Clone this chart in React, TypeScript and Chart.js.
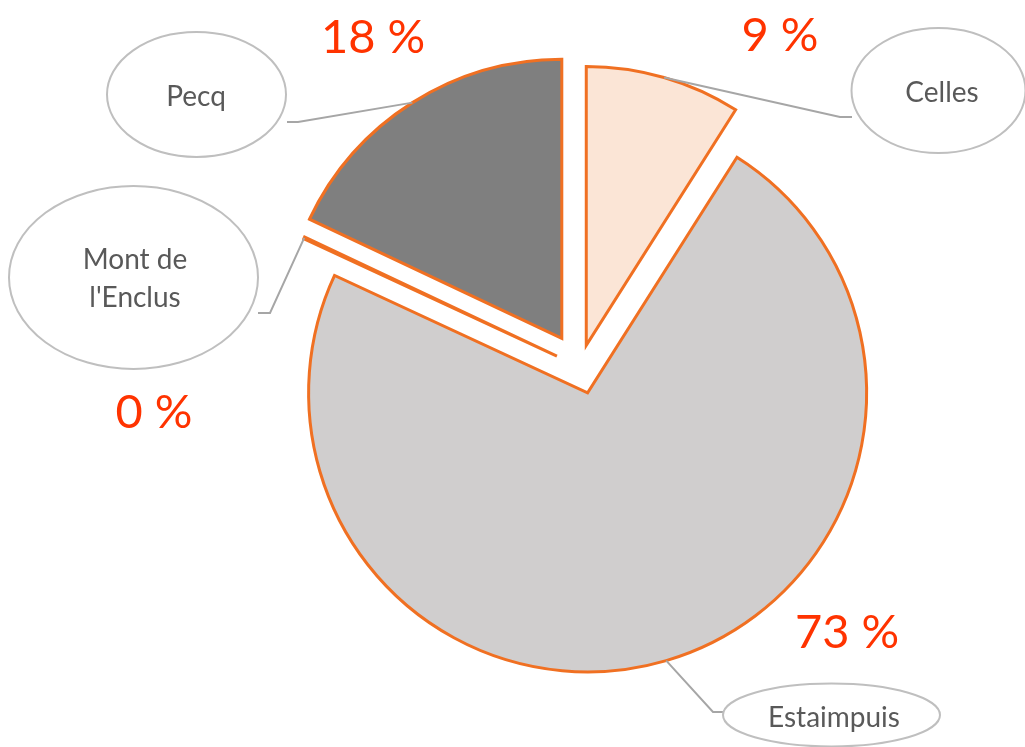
import React, { useEffect, useRef } from "react";
import { Chart, registerables } from "chart.js";

Chart.register(...registerables);

// ---- data ----
const categories: string[][] = [["Celles"], ["Estaimpuis"], ["Mont de", "l'Enclus"], ["Pecq"]];
const shares: number[] = [9, 73, 0.1, 18];
const fillColors: string[] = ["#FBE5D6", "#D0CECE", "#FFFFFF", "#7F7F7F"];
// explosion distance of each slice (px), a style setting
const explodeDistances: number[] = [22.5, 27, 25.5, 34];

// ---- layout of callouts (positions only) ----
type Callout = {
  ex: number; ey: number; rx: number; ry: number;
  tx: number; tBase: number[];
  elbow: [number, number]; end: [number, number];
  px: number; pBase: number;
};
const callouts: Callout[] = [
  { ex: 938.5, ey: 90.5, rx: 87, ry: 62.5, tx: 942, tBase: [102], elbow: [840, 117], end: [852, 117], px: 780, pBase: 51 },
  { ex: 831.5, ey: 715, rx: 108.5, ry: 31.5, tx: 834, tBase: [727], elbow: [713, 712], end: [723, 712], px: 847, pBase: 648 },
  { ex: 133.5, ey: 277.5, rx: 124.5, ry: 91.5, tx: 135, tBase: [269, 307], elbow: [270, 313], end: [258, 313], px: 154, pBase: 428 },
  { ex: 196.5, ey: 94.5, rx: 89.5, ry: 62.5, tx: 196, tBase: [106], elbow: [298, 122], end: [287, 122], px: 373, pBase: 53 },
];

const explodePlugin = {
  id: "explode",
  beforeDatasetsDraw(chart: any) {
    const meta = chart.getDatasetMeta(0);
    meta.data.forEach((arc: any, i: number) => {
      if (arc.$exploded) return;
      arc.$exploded = true;
      const orig = arc.draw.bind(arc);
      arc.draw = (ctx: CanvasRenderingContext2D, area: any) => {
        const mid = (arc.startAngle + arc.endAngle) / 2;
        const d = explodeDistances[i];
        ctx.save();
        ctx.translate(Math.cos(mid) * d, Math.sin(mid) * d);
        orig(ctx, area);
        ctx.restore();
      };
    });
  },
};

const calloutPlugin = {
  id: "callouts",
  afterDraw(chart: any) {
    const ctx: CanvasRenderingContext2D = chart.ctx;
    const meta = chart.getDatasetMeta(0);
    const total = shares.reduce((a, b) => a + b, 0);
    ctx.save();
    meta.data.forEach((arc: any, i: number) => {
      const c = callouts[i];
      const p = arc.getProps(["x", "y", "startAngle", "endAngle", "outerRadius"], true);
      const mid = (p.startAngle + p.endAngle) / 2;
      const r = p.outerRadius + explodeDistances[i];
      const ax = p.x + Math.cos(mid) * r;
      const ay = p.y + Math.sin(mid) * r;

      // leader line
      ctx.beginPath();
      ctx.strokeStyle = "#A6A6A6";
      ctx.lineWidth = 2;
      ctx.lineJoin = "miter";
      ctx.moveTo(ax, ay);
      ctx.lineTo(c.elbow[0], c.elbow[1]);
      ctx.lineTo(c.end[0], c.end[1]);
      ctx.stroke();

      // ellipse
      ctx.beginPath();
      ctx.ellipse(c.ex, c.ey, c.rx, c.ry, 0, 0, Math.PI * 2);
      ctx.fillStyle = "#FFFFFF";
      ctx.fill();
      ctx.strokeStyle = "#BFBFBF";
      ctx.lineWidth = 2;
      ctx.stroke();

      // category text
      ctx.fillStyle = "#595959";
      ctx.font = "28px Lato";
      ctx.textAlign = "center";
      ctx.textBaseline = "alphabetic";
      categories[i].forEach((line, k) => {
        ctx.fillText(line, c.tx, c.tBase[k]);
      });

      // percentage
      const pct = Math.round((shares[i] / total) * 100);
      ctx.fillStyle = "#FF3300";
      ctx.font = "47px Lato";
      ctx.fillText(pct + " %", c.px, c.pBase);
    });
    ctx.restore();
  },
};

export default function App() {
  const ref = useRef<HTMLCanvasElement | null>(null);
  useEffect(() => {
    if (!ref.current) return;
    const chart = new Chart(ref.current, {
      type: "pie",
      data: {
        labels: categories.map((c) => c.join(" ")),
        datasets: [
          {
            data: shares,
            backgroundColor: fillColors,
            borderColor: "#F07022",
            borderWidth: 3,
            borderJoinStyle: "miter",
            offset: 0,
            hoverOffset: 0,
            clip: false,
          } as any,
        ],
      },
      options: {
        responsive: false,
        animation: false,
        radius: 279,
        events: [],
        layout: { padding: { left: 135, right: 0, top: 0, bottom: 13 } },
        plugins: {
          legend: { display: false },
          tooltip: { enabled: false },
        },
      } as any,
      plugins: [explodePlugin, calloutPlugin],
    });
    return () => chart.destroy();
  }, []);
  return (
    <div style={{ position: "absolute", left: 0, top: 0, width: 1025, height: 747, background: "#fff" }}>
      <canvas ref={ref} width={1025} height={747} />
    </div>
  );
}
